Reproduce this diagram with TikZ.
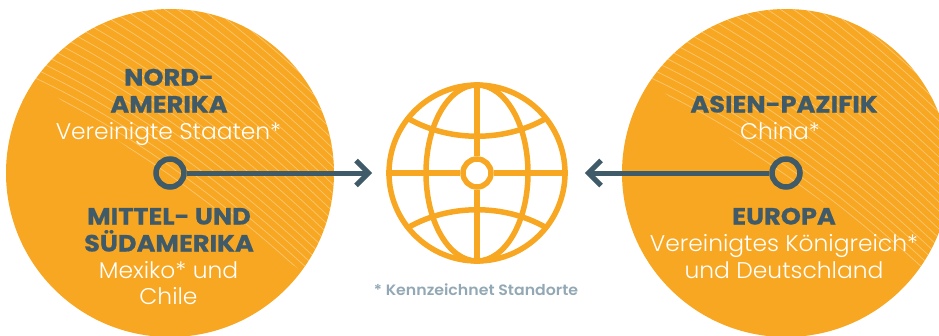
\documentclass[tikz,border=0pt]{standalone}
\usepackage{fontspec}
\setmainfont{Poppins}
\newfontfamily\headfont[FakeStretch=1.09,FakeBold=0.6]{Poppins Bold}
\newfontfamily\bodyfont[FakeStretch=1.03]{Poppins Light}
\newfontfamily\notefont[FakeStretch=1.05]{Poppins SemiBold}
\definecolor{org}{HTML}{F8A722}
\definecolor{slate}{HTML}{3F5A69}
\definecolor{note}{HTML}{93A8B5}
\tikzset{
  disc/.style={circle,fill=org,draw=none,minimum size=328pt,inner sep=0pt},
  hub/.style={circle,draw=slate,line width=5.5pt,minimum size=28pt,inner sep=0pt},
  link/.style={draw=slate,line width=5pt},
  tip/.style={draw=slate,line width=5pt,miter limit=10},
  globeline/.style={draw=org,line width=5.5pt},
  hatch/.style={draw=white,opacity=.36,line width=.7pt},
  head/.style={text=slate,font=\headfont\fontsize{23.5}{23.5}\selectfont,align=center,inner sep=0pt,anchor=base},
  body/.style={text=white,font=\bodyfont\fontsize{22.7}{22.7}\selectfont,align=center,inner sep=0pt,anchor=base},
}
\newcommand{\hatchset}{%
  \foreach \d in {-200,-191,...,300}{
    \draw[hatch] (-40,{-60-\d+80}) .. controls (60,{-40-\d+90}) and (200,{20-\d+110}) .. (360,{200-\d+90});
  }
}
\begin{document}
\begin{tikzpicture}[x=1pt,y=-1pt]
\useasboundingbox (0,0) rectangle (939,335);
\node[disc] (west) at (170,173) {};
\begin{scope}
  \clip (170,173) circle (164);
  \clip (0,56.5) -- (400,341) -- (400,-10) -- (0,-10) -- cycle;
  \hatchset
\end{scope}
\begin{scope}
  \clip (0,0) rectangle (939,335);
  \node[disc] (east) at (786,173) {};
  \clip (786,173) circle (164);
  \clip (640,76) -- (1000,324) -- (1000,-10) -- (640,-10) -- cycle;
  \begin{scope}[xshift=616pt]\hatchset\end{scope}
\end{scope}

\node[hub] (hubw) at (170,173) {};
\node[hub] (hube) at (786,173) {};

% globe
\coordinate (g) at (477,173);
\node[circle,globeline,minimum size=176pt,inner sep=0pt] (globe) at (g) {};
\node[circle,globeline,minimum size=28pt,inner sep=0pt] (core) at (g) {};
\draw[globeline] (g) ++(-51,0) arc[start angle=180,end angle=-180,x radius=51,y radius=88];
\draw[globeline] (globe.north) -- (core.north);
\draw[globeline] (core.south) -- (globe.south);
\draw[globeline] (globe.west) -- (core.west);
\draw[globeline] (core.east) -- (globe.east);
\coordinate (tl) at (409,119); \coordinate (tr) at (545,119);
\coordinate (bl) at (409,227); \coordinate (br) at (545,227);
\draw[globeline] (tl) .. controls (450,142) and (504,142) .. (tr);
\draw[globeline] (bl) .. controls (450,204) and (504,204) .. (br);

% connectors
\coordinate (tipw) at (368.5,173);
\coordinate (tipe) at (588.5,173);
\draw[link] (hubw) ++(17,0) -- (tipw);
\draw[link] (hube) ++(-17,0) -- (tipe);
\draw[tip] (356,160.5) -- (tipw) -- (356,185.5);
\draw[tip] (601,160.5) -- (tipe) -- (601,185.5);

% text
\node[head] (n1) at (169,85.5) {NORD-};
\node[head] (n2) at (169,112.5) {AMERIKA};
\node[body] (n3) at (168.5,139) {Vereinigte Staaten*};
\node[head] (s1) at (169,224.5) {MITTEL- UND};
\node[head] (s2) at (169,251.5) {SÜDAMERIKA};
\node[body] (s3) at (168.5,278) {Mexiko* und};
\node[body] (s4) at (168.5,304) {Chile};
\node[head] (a1) at (784,112.5) {ASIEN-PAZIFIK};
\node[body] (a2) at (780,139) {China*};
\node[head] (e1) at (784,224.5) {EUROPA};
\node[body] (e2) at (784,251) {Vereinigtes Königreich*};
\node[body] (e3) at (784,278) {und Deutschland};
\node[text=note,font=\notefont\fontsize{15}{15}\selectfont,inner sep=0pt,anchor=base] (fn) at (476,295) {* Kennzeichnet Standorte};
\end{tikzpicture}
\end{document}
